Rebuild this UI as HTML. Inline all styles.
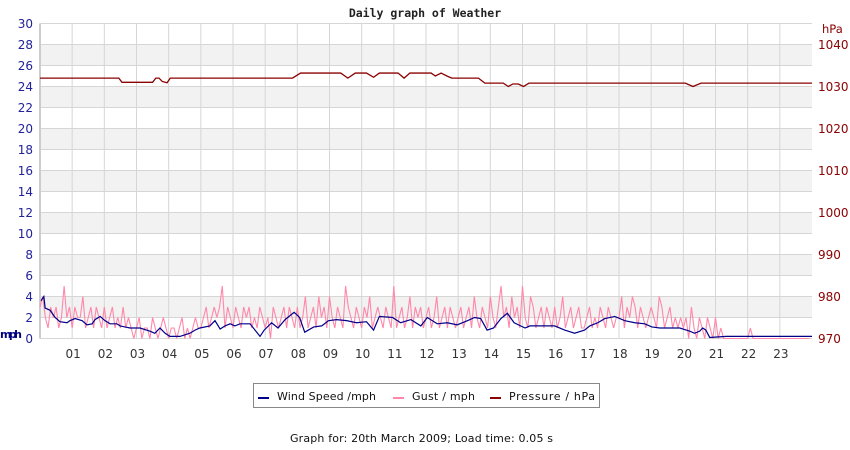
<!DOCTYPE html>
<html><head><meta charset="utf-8"><style>
html,body{margin:0;padding:0;background:#fff;}
svg{display:block;font-family:"DejaVu Sans","Liberation Sans",sans-serif;}
</style></head><body>
<svg id="chart" width="850" height="450" viewBox="0 0 850 450" xmlns="http://www.w3.org/2000/svg">
<text x="425" y="17" text-anchor="middle" font-family="DejaVu Sans Mono, Liberation Mono, monospace" font-weight="bold" font-size="11.5" fill="#222">Daily graph of Weather</text>
<g id="bands"></g>
<g id="grid"></g>
<g id="yleft"></g>
<g id="yright"></g>
<g id="xaxis"></g>
<text x="0" y="338" font-size="11" font-weight="bold" fill="#00007f" textLength="22">mph</text>
<text x="822" y="33" font-size="11.5" fill="#8b0000">hPa</text>
<g id="series"></g>
<g>
<rect x="253.5" y="383.5" width="346" height="24" fill="#fff" stroke="#888"/>
<rect x="258" y="397" width="11" height="2" fill="#00008b"/>
<text x="277" y="400" font-size="11" fill="#111" textLength="99">Wind Speed /mph</text>
<rect x="393" y="397" width="11" height="2" fill="#ff88aa"/>
<text x="412" y="400" font-size="11" fill="#111" textLength="63">Gust / mph</text>
<rect x="490" y="397" width="11" height="2" fill="#8b0000"/>
<text x="509" y="400" font-size="11" fill="#111" textLength="86">Pressure / hPa</text>
</g>
<text x="290" y="442" font-size="11" fill="#111" textLength="263">Graph for: 20th March 2009; Load time: 0.05 s</text>
</svg>
<script>
const hourLabels = ["01","02","03","04","05","06","07","08","09","10","11","12","13","14","15","16","17","18","19","20","21","22","23"];
const mphTicks = [0,2,4,6,8,10,12,14,16,18,20,22,24,26,28,30];
const hpaTicks = [970,980,990,1000,1010,1020,1030,1040];
const pressureTimes = [0,2.45,2.55,3.5,3.6,3.7,3.8,3.95,4.05,7.85,8.1,9.35,9.57,9.8,10.15,10.37,10.55,11.13,11.32,11.5,12.16,12.29,12.47,12.65,12.8,13.63,13.83,14.4,14.56,14.7,14.87,15.03,15.2,20.06,20.3,20.55,24];
const pressureValues = [1032,1032,1031,1031,1032,1032,1031.2,1030.9,1032,1032,1033.2,1033.2,1032,1033.2,1033.2,1032.2,1033.2,1033.2,1032,1033.2,1033.2,1032.5,1033.2,1032.5,1032,1032,1030.8,1030.8,1030,1030.6,1030.6,1030,1030.8,1030.8,1030,1030.8,1030.8];
const windTimes = [0.03,0.12,0.16,0.31,0.47,0.62,0.84,0.93,1.09,1.31,1.46,1.62,1.71,1.87,2.02,2.18,2.39,2.49,2.8,3.11,3.42,3.57,3.73,3.89,4.04,4.35,4.66,4.82,4.97,5.28,5.44,5.6,5.75,5.91,6.06,6.22,6.53,6.84,6.97,7.2,7.4,7.62,7.9,8.07,8.23,8.51,8.76,8.97,9.22,9.53,9.84,10.15,10.37,10.55,10.96,11.21,11.53,11.84,12.04,12.35,12.66,12.97,13.29,13.51,13.7,13.9,14.1,14.33,14.53,14.74,15.08,15.23,15.48,15.7,16.0,16.31,16.62,16.93,17.09,17.34,17.56,17.87,18.18,18.49,18.8,19.02,19.27,19.58,19.89,20.2,20.35,20.51,20.6,20.7,20.82,21.33,24];
const windValues = [3.6,4.0,2.9,2.7,2.0,1.6,1.5,1.7,1.9,1.7,1.3,1.4,1.8,2.1,1.7,1.4,1.4,1.2,1.0,1.0,0.7,0.5,1.0,0.5,0.2,0.2,0.5,0.8,1.0,1.2,1.7,0.9,1.2,1.4,1.2,1.4,1.4,0.2,0.8,1.5,1.0,1.8,2.5,2.0,0.6,1.1,1.2,1.7,1.8,1.7,1.5,1.6,0.8,2.1,2.0,1.5,1.8,1.2,2.0,1.4,1.5,1.3,1.7,2.0,1.9,0.8,1.0,1.9,2.4,1.5,1.0,1.2,1.2,1.2,1.2,0.8,0.5,0.8,1.2,1.5,1.9,2.1,1.7,1.5,1.4,1.1,1.0,1.0,1.0,0.7,0.5,0.7,1.0,0.8,0.1,0.2,0.2];
const gustValues = [
3,4,2,1,3,2,3,1,2,5,2,3,
1,3,2,2,4,1,2,3,1,3,2,1,
3,1,2,3,1,2,1,3,1,2,1,0,
1,2,0,1,1,0,2,1,0,1,2,1,
0,1,1,0,1,2,0,1,0,1,2,1,
1,2,3,1,2,3,2,3,5,1,3,2,
1,3,2,1,3,2,3,1,2,1,3,2,
1,2,0,3,2,1,2,3,1,3,2,1,
3,1,2,4,1,2,3,1,4,2,3,1,
4,2,1,3,2,1,5,3,2,1,3,2,
1,3,2,4,1,2,3,2,1,3,2,1,
5,1,2,3,1,2,4,1,3,2,3,1,
2,3,1,2,4,1,2,3,1,3,2,1,
2,3,1,2,3,1,4,2,1,3,2,1,
4,2,1,3,5,2,3,1,4,2,3,1,
5,2,1,4,3,1,2,3,1,3,2,1,
3,1,2,4,1,2,3,1,2,3,1,1,
2,3,1,2,1,3,2,1,3,2,1,2,
2,4,1,3,2,4,3,1,3,2,1,2,
3,2,1,4,3,1,2,3,1,2,1,2,
1,2,0,3,1,0,2,1,0,2,1,0,
2,0,1,0,0,0,0,0,0,0,0,0,
0,1,0,0,0,0,0,0,0,0,0,0,
0,0,0,0,0,0,0,0,0,0,0,0];
const gustStep = 1/12;

const NS="http://www.w3.org/2000/svg";
const L=40, R=812, T=23.5, B=338.5;
const x = h => L + h*(R-L)/24;
const yM = v => B - v*(B-T)/30;
const yP = p => yM((p-970)/2.5);
function mk(tag, attrs, parent){const e=document.createElementNS(NS,tag);for(const k in attrs)e.setAttribute(k,attrs[k]);parent.appendChild(e);return e;}
const bands=document.getElementById('bands'), grid=document.getElementById('grid');
for(let v=2; v<30; v+=4){
  const r=mk('rect',{x:L,y:yM(v+2),width:R-L,height:yM(v)-yM(v+2),fill:'#f2f2f2'},bands);
  
  
}
mphTicks.forEach(v=>{
  const ln=mk('line',{x1:L,x2:R,y1:yM(v),y2:yM(v),stroke:'#d6d6d6','stroke-width':1},grid);
  
  
});
for(let h=1; h<24; h++){
  const ln=mk('line',{x1:x(h),x2:x(h),y1:T,y2:B,stroke:'#d6d6d6','stroke-width':1},grid);
  
  
}
const la=mk('line',{x1:L,x2:L,y1:T,y2:B,stroke:'#cccccc','stroke-width':2},grid);


const yl=document.getElementById('yleft');
mphTicks.forEach(v=>{
  const t=mk('text',{x:33,y:yM(v)+4.5,'text-anchor':'end','font-size':12,fill:'#22229a'},yl);
  t.textContent=v;
  
  
});
const yr=document.getElementById('yright');
hpaTicks.forEach(p=>{
  const t=mk('text',{x:818,y:yP(p)+4.5,'font-size':12,fill:'#8b0000'},yr);
  t.textContent=p;
  
  
});
const xa=document.getElementById('xaxis');
hourLabels.forEach((lab,i)=>{
  const t=mk('text',{x:x(i+1)+1,y:358,'text-anchor':'middle','font-size':12,fill:'#333'},xa);
  t.textContent=lab;
  
  
});
const s=document.getElementById('series');
const gp=gustValues.map((v,i)=>x(i*gustStep)+','+yM(v)).join(' ');
const g=mk('polyline',{points:gp,fill:'none',stroke:'#ff88aa','stroke-width':1.1},s);


const wp=windTimes.map((t,i)=>x(t)+','+yM(windValues[i])).join(' ');
const w=mk('polyline',{points:wp,fill:'none',stroke:'#00008b','stroke-width':1.2},s);


const pp=pressureTimes.map((t,i)=>x(t)+','+yP(pressureValues[i])).join(' ');
const p=mk('polyline',{points:pp,fill:'none',stroke:'#8b0000','stroke-width':1.3},s);


</script>
</body></html>
